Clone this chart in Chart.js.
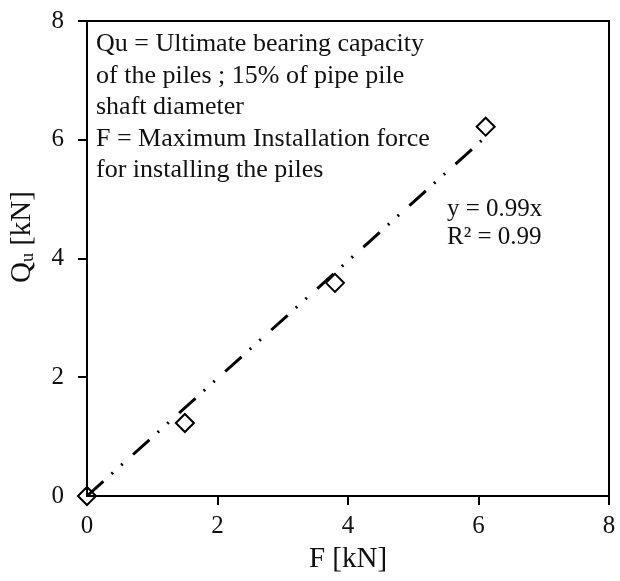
<!DOCTYPE html>
<html>
<head>
<meta charset="utf-8">
<script src="https://cdn.jsdelivr.net/npm/chart.js@4/dist/chart.umd.min.js"></script>
<style>
  html, body { margin: 0; padding: 0; background: #fff; }
  #wrap { width: 620px; height: 581px; }
</style>
</head>
<body>
<div id="wrap"><canvas id="qfChart" width="620" height="581"></canvas></div>
<script>
const forceF = [0, 1.50, 3.80, 6.11];
const capacityQu = [0, 1.23, 3.59, 6.22];
const trendSlope = 0.99;
const trendX = [0, 6.11];
const axisTicks = [0, 2, 4, 6, 8];
const noteLines = [
    'Qu = Ultimate bearing capacity',
    'of the piles ; 15% of pipe pile',
    'shaft diameter',
    'F = Maximum Installation force',
    'for installing the piles'
];
const fitLines = ['y = 0.99x', 'R\u00B2 = 0.99'];

const serif = '"Liberation Serif", "DejaVu Serif", serif';

const boxAndText = {
    id: 'boxAndText',
    afterDraw(chart) {
        const { ctx, chartArea: a } = chart;
        ctx.save();
        ctx.strokeStyle = '#000';
        ctx.lineWidth = 2;
        ctx.strokeRect(a.left, a.top, a.right - a.left, a.bottom - a.top);

        ctx.fillStyle = '#111';
        ctx.font = '26px ' + serif;
        ctx.textBaseline = 'alphabetic';
        ctx.textAlign = 'left';
        noteLines.forEach((t, i) => ctx.fillText(t, 96, 51 + i * 31.6));
        ctx.font = '25px ' + serif;
        fitLines.forEach((t, i) => ctx.fillText(t, 447, 216 + i * 28));

        // y title with subscript
        ctx.textBaseline = 'middle';
        ctx.translate(22, 237);
        ctx.rotate(-Math.PI / 2);
        const big = '29px ' + serif, small = '18px ' + serif;
        const q = 'Q', rest = ' [kN]';
        ctx.font = big;
        const wq = ctx.measureText(q).width;
        const wr = ctx.measureText(rest).width;
        ctx.font = small;
        const wu = ctx.measureText('u').width;
        let x = -(wq + wu + wr) / 2;
        ctx.font = big;
        ctx.fillText(q, x, 0);
        x += wq;
        ctx.font = small;
        ctx.fillText('u', x, 6);
        x += wu;
        ctx.font = big;
        ctx.fillText(rest, x, 0);
        ctx.restore();
    }
};

new Chart(document.getElementById('qfChart'), {
    type: 'scatter',
    data: {
        datasets: [
            {
                label: 'Trend',
                type: 'line',
                data: trendX.map(x => ({ x, y: trendSlope * x })),
                borderColor: '#000',
                borderWidth: 3,
                borderDash: [22, 11, 2, 11, 2, 14],
                pointRadius: 0,
                fill: false
            },
            {
                label: 'Measured',
                data: forceF.map((x, i) => ({ x, y: capacityQu[i] })),
                pointStyle: 'rectRot',
                pointRadius: 9,
                pointBorderWidth: 2,
                borderColor: '#000',
                backgroundColor: '#fff'
            }
        ]
    },
    options: {
        responsive: false,
        animation: false,
        clip: false,
        layout: { padding: { top: 21, right: 4, left: 0, bottom: 0 } },
        plugins: { legend: { display: false }, tooltip: { enabled: false } },
        scales: {
            x: {
                type: 'linear',
                min: 0, max: 8,
                afterBuildTicks: s => { s.ticks = axisTicks.map(v => ({ value: v })); },
                afterFit: s => { s.height = 85; s.paddingLeft = 0; s.paddingRight = 0; },
                border: { color: '#000', width: 2 },
                grid: { drawOnChartArea: false, color: '#000', lineWidth: 2, tickLength: 9 },
                ticks: { color: '#111', font: { family: serif, size: 25 }, padding: 6 },
                title: { display: true, text: 'F [kN]', color: '#111', font: { family: serif, size: 29 }, padding: { top: 0 } }
            },
            y: {
                type: 'linear',
                min: 0, max: 8,
                afterBuildTicks: s => { s.ticks = axisTicks.map(v => ({ value: v })); },
                afterFit: s => { s.width = 87; s.paddingTop = 0; s.paddingBottom = 0; },
                border: { color: '#000', width: 2 },
                grid: { drawOnChartArea: false, color: '#000', lineWidth: 2, tickLength: 9 },
                ticks: { color: '#111', font: { family: serif, size: 25 }, padding: 14 }
            }
        }
    },
    plugins: [boxAndText]
});
</script>
</body>
</html>
